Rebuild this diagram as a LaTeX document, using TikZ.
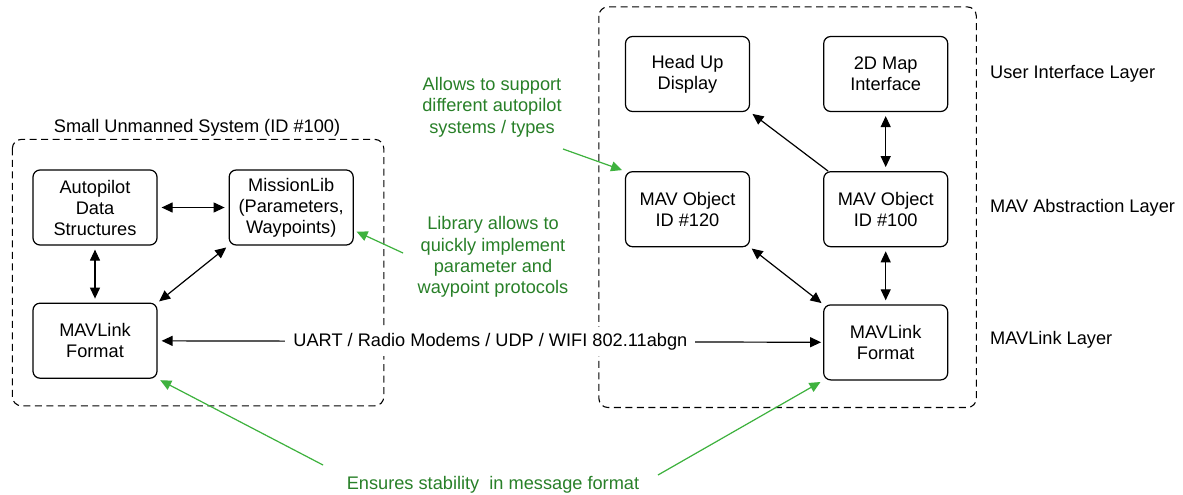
\documentclass[tikz,border=0pt]{standalone}
\usepackage{fontspec}
\setmainfont{Liberation Sans}
\usepackage{xcolor}
\usetikzlibrary{arrows.meta,positioning,calc}
\definecolor{verdetexto}{RGB}{40,128,40}
\definecolor{verdelinea}{RGB}{62,178,62}
\begin{document}
\begin{tikzpicture}[
  x=1pt, y=1pt,
  caja/.style={rectangle, rounded corners=7pt, draw, line width=1.2pt, align=center, minimum width=124pt, minimum height=75pt, inner sep=0pt, font=\fontsize{18.2}{21}\selectfont},
  marco/.style={draw, line width=1.1pt, dash pattern=on 7pt off 4.5pt, rounded corners=9pt},
  rotulo/.style={font=\fontsize{18.2}{21}\selectfont, inner sep=2pt},
  nota/.style={font=\fontsize{18.2}{21.3}\selectfont, align=center, text=verdetexto, inner sep=0pt},
  flecha/.style={{Triangle[length=11pt,width=10pt]}-{Triangle[length=11pt,width=10pt]}, line width=1.2pt, shorten <=4pt, shorten >=4pt},
  flechau/.style={-{Triangle[length=11pt,width=10pt]}, line width=1.2pt, shorten >=3pt},
  flechav/.style={-{Triangle[length=11pt,width=10pt]}, line width=1.2pt, draw=verdelinea, fill=verdelinea, shorten >=3pt}
]
\useasboundingbox (0,0) rectangle (1183,-495);
\fill[white] (0,0) rectangle (1183,-495);
% small unmanned system
\node[caja] (ap) at (95,-207.5) {Autopilot\\Data\\Structures};
\node[caja, right=71pt of ap] (ml) {MissionLib\\(Parameters,\\Waypoints)};
\node[caja, below=57pt of ap] (mlL) {MAVLink\\Format};
% ground station
\node[caja] (hud) at (687.5,-74) {Head Up\\Display};
\node[caja, right=73pt of hud] (map) {2D Map\\Interface};
\node[caja, below=59pt of hud] (mav120) {MAV Object\\ID \#120};
\node[caja, below=59pt of map] (mav100) {MAV Object\\ID \#100};
\node[caja, below=57pt of mav100] (mlR) {MAVLink\\Format};
% dashed frames
\draw[marco] ($(ap.north west)+(-20,30)$) rectangle ($(mlL.south -| ml.east)+(30,-27)$);
\draw[marco] ($(hud.north west)+(-26,29)$) rectangle ($(mlR.south east)+(28,-27)$);
\node[rotulo] (sus) at (197,-128) {Small Unmanned System (ID \#100)};
% layers
\node[rotulo, anchor=west, inner sep=0pt] (capaui) at (990,-74) {User Interface Layer};
\node[rotulo, anchor=west, inner sep=0pt] (capamav) at (990,-207.5) {MAV Abstraction Layer};
\node[rotulo, anchor=west, inner sep=0pt] (capalink) at (990,-339.5) {MAVLink Layer};
% links
\draw[flecha] (ap) -- (ml);
\draw[flecha] (ap) -- (mlL);
\draw[flecha, shorten <=3pt, shorten >=2pt] (ml.south west) -- (mlL.north east);
\draw[flecha, shorten >=2pt] (mlL) -- node[rotulo, fill=white, inner xsep=8pt, inner ysep=6pt] (enlace) {UART / Radio Modems / UDP / WIFI 802.11abgn} (mlR);
\draw[flechau] ($(mav100.north west)+(5,0)$) -- (hud.south east);
\draw[flecha] (map) -- (mav100);
\draw[flecha, shorten <=2pt, shorten >=2pt] (mav120.south east) -- (mlR.north west);
\draw[flecha] (mav100) -- (mlR);
% notes
\node[nota] (nsoporte) at (492,-107) {Allows to support\\different autopilot\\systems / types};
\node[nota] (nlib) at (493,-257) {Library allows to\\quickly implement\\parameter and\\waypoint protocols};
\node[nota] (nformato) at (493,-485) {Ensures stability\ \ in message format};
\coordinate (csoporte) at (563,-149);
\coordinate (clib) at (403,-253);
\coordinate (cformizq) at (323,-465);
\coordinate (cformder) at (658,-475);
\draw[flechav] (csoporte) -- (mav120.north west);
\draw[flechav] (clib) -- (ml.-20);
\draw[flechav] (cformizq) -- (mlL.south east);
\draw[flechav] (cformder) -- (mlR.south west);
\end{tikzpicture}
\end{document}
